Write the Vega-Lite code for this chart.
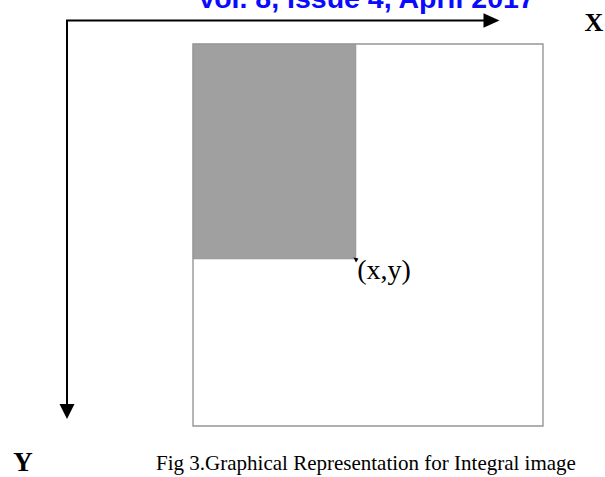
{
  "$schema": "https://vega.github.io/schema/vega-lite/v6.json",
  "width": 605,
  "height": 477,
  "padding": 0,
  "autosize": {"type": "none"},
  "background": "white",
  "config": {"view": {"stroke": null}},
  "datasets": {
    "shaded": [{"x0": 193, "x1": 356, "y0": 44, "y1": 259}],
    "frame": [{"x0": 193, "x1": 543, "y0": 44, "y1": 426}],
    "axes": [
      {"axis": "X", "x0": 66, "y0": 20.5, "x1": 486, "y1": 20.5},
      {"axis": "Y", "x0": 67, "y0": 20, "x1": 67, "y1": 406}
    ],
    "headX": [{"x": 491.5, "y": 20.5}],
    "headY": [{"x": 67, "y": 411.5}],
    "corner": [{"x": 356, "y": 260}],
    "labelX": [{"x": 594, "y": 31, "t": "X"}],
    "labelY": [{"x": 23, "y": 471, "t": "Y"}],
    "point": [{"x": 384, "y": 279, "t": "(x,y)"}],
    "caption": [{"x": 366, "y": 470, "t": "Fig 3.Graphical Representation for Integral image"}],
    "header": [{"x": 366, "y": 7.5, "t": "Vol. 8, Issue 4, April 2017"}]
  },
  "resolve": {"scale": {"x": "shared", "y": "shared"}},
  "layer": [
    {
      "data": {"name": "shaded"},
      "mark": {"type": "rect", "fill": "#a0a0a0", "stroke": "#909090", "strokeWidth": 0.5},
      "encoding": {
        "x": {"field": "x0", "type": "quantitative", "scale": {"domain": [0, 605], "nice": false, "zero": false}, "axis": null},
        "x2": {"field": "x1"},
        "y": {"field": "y0", "type": "quantitative", "scale": {"domain": [0, 477], "nice": false, "zero": false, "reverse": true}, "axis": null},
        "y2": {"field": "y1"}
      }
    },
    {
      "data": {"name": "frame"},
      "mark": {"type": "rect", "fill": null, "fillOpacity": 0, "stroke": "#969696", "strokeWidth": 1.4},
      "encoding": {
        "x": {"field": "x0", "type": "quantitative"},
        "x2": {"field": "x1"},
        "y": {"field": "y0", "type": "quantitative"},
        "y2": {"field": "y1"}
      }
    },
    {
      "data": {"name": "axes"},
      "mark": {"type": "rule", "color": "black", "strokeWidth": 2},
      "encoding": {
        "x": {"field": "x0", "type": "quantitative"},
        "x2": {"field": "x1"},
        "y": {"field": "y0", "type": "quantitative"},
        "y2": {"field": "y1"}
      }
    },
    {
      "data": {"name": "headX"},
      "mark": {"type": "point", "shape": "M-1,-0.9L1,0L-1,0.9Z", "filled": true, "color": "black", "opacity": 1, "size": 256},
      "encoding": {
        "x": {"field": "x", "type": "quantitative"},
        "y": {"field": "y", "type": "quantitative"}
      }
    },
    {
      "data": {"name": "headY"},
      "mark": {"type": "point", "shape": "M-1,-1L1,-1L0,1Z", "filled": true, "color": "black", "opacity": 1, "size": 225},
      "encoding": {
        "x": {"field": "x", "type": "quantitative"},
        "y": {"field": "y", "type": "quantitative"}
      }
    },
    {
      "data": {"name": "corner"},
      "mark": {"type": "point", "shape": "M-1,-1L1,-0.6L0,1Z", "filled": true, "color": "black", "opacity": 1, "size": 25},
      "encoding": {
        "x": {"field": "x", "type": "quantitative"},
        "y": {"field": "y", "type": "quantitative"}
      }
    },
    {
      "data": {"name": "labelX"},
      "mark": {"type": "text", "font": "Liberation Serif", "fontWeight": "bold", "fontSize": 26, "color": "black", "align": "center", "baseline": "alphabetic"},
      "encoding": {
        "x": {"field": "x", "type": "quantitative"},
        "y": {"field": "y", "type": "quantitative"},
        "text": {"field": "t"}
      }
    },
    {
      "data": {"name": "labelY"},
      "mark": {"type": "text", "font": "Liberation Serif", "fontWeight": "bold", "fontSize": 27, "color": "black", "align": "center", "baseline": "alphabetic"},
      "encoding": {
        "x": {"field": "x", "type": "quantitative"},
        "y": {"field": "y", "type": "quantitative"},
        "text": {"field": "t"}
      }
    },
    {
      "data": {"name": "point"},
      "mark": {"type": "text", "font": "Liberation Serif", "fontSize": 28, "color": "black", "align": "center", "baseline": "alphabetic"},
      "encoding": {
        "x": {"field": "x", "type": "quantitative"},
        "y": {"field": "y", "type": "quantitative"},
        "text": {"field": "t"}
      }
    },
    {
      "data": {"name": "caption"},
      "mark": {"type": "text", "font": "Liberation Serif", "fontSize": 21, "color": "black", "align": "center", "baseline": "alphabetic"},
      "encoding": {
        "x": {"field": "x", "type": "quantitative"},
        "y": {"field": "y", "type": "quantitative"},
        "text": {"field": "t"}
      }
    },
    {
      "data": {"name": "header"},
      "mark": {"type": "text", "font": "Liberation Sans", "fontWeight": "bold", "fontSize": 28.5, "color": "#0a0aff", "align": "center", "baseline": "alphabetic"},
      "encoding": {
        "x": {"field": "x", "type": "quantitative"},
        "y": {"field": "y", "type": "quantitative"},
        "text": {"field": "t"}
      }
    }
  ]
}
